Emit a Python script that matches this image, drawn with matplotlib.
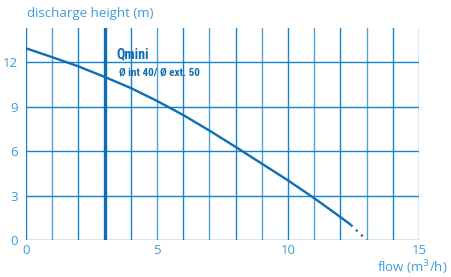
import numpy as np
import matplotlib
matplotlib.use('Agg')
import matplotlib.pyplot as plt
from matplotlib import font_manager

# pump curve
flow = [0, 1, 2, 3, 4, 5, 6, 7, 8, 9, 10, 11, 12, 12.4]
head = [12.93, 12.33, 11.71, 11.0, 10.25, 9.38, 8.43, 7.38, 6.28, 5.15, 4.02, 2.82, 1.55, 1.02]
flow_tail = [12.4, 13.0]
head_tail = [1.02, 0.0]
q_min = 3.0

x_ticks = [0, 5, 10, 15]
y_ticks = [0, 3, 6, 9, 12]

grid_col = '#1783c8'
curve_col = '#0f6db3'
text_col = '#3f9bd8'

plt.rcParams['font.family'] = ['Open Sans', 'DejaVu Sans']

# condensed bold face for the annotation, if one is installed
installed = {f.name for f in font_manager.fontManager.ttflist}
narrow = None
for name in ['Liberation Sans Narrow', 'DejaVu Sans Condensed', 'Roboto Condensed']:
    if name in installed:
        narrow = name
        break

fig = plt.figure(figsize=(4.52, 2.77), dpi=100)
ax = fig.add_axes([0.0575, 0.1336, 0.8695, 0.7654])

ax.set_xlim(0, 15)
ax.set_ylim(0, 14.3)

# grid
for xv in range(0, 16):
    ax.axvline(xv, color=grid_col, lw=1.0, alpha=0.75 if xv % 2 else 1.0, zorder=1)
for yv in y_ticks:
    ax.axhline(yv, color=grid_col, lw=1.0, zorder=1)

ax.axvline(q_min, color=curve_col, lw=2.4, ymax=14.2 / 14.3, zorder=3)

ax.plot(flow, head, color=curve_col, lw=1.7, zorder=4, solid_capstyle='butt',
        solid_joinstyle='round')
ax.plot(flow_tail, head_tail, color=curve_col, lw=1.6, ls=(0, (1, 2.2)), zorder=4)

for s in ax.spines.values():
    s.set_visible(False)

ax.set_xticks(x_ticks)
ax.set_yticks(y_ticks)
ax.tick_params(length=0, colors=text_col, labelsize=9.5)
ax.tick_params(axis='x', pad=3)
ax.tick_params(axis='y', pad=6)

fig.text(27 / 452, 1 - 14 / 277, 'discharge height (m)', color=text_col,
         fontsize=9.5, va='center', ha='left')
fig.text(447 / 452, 1 - 268 / 277, 'flow (m$^3$/h)', color=text_col,
         fontsize=9.5, va='center', ha='right')

if narrow:
    fam, s1, s2 = [narrow, 'DejaVu Sans'], 10, 8
else:
    fam, s1, s2 = ['Roboto', 'DejaVu Sans'], 7.5, 6.5
ax.text(3.45, 12.55, 'Qmini', color=curve_col, fontsize=s1, fontweight='bold',
        family=fam, va='center', ha='left', zorder=5)
ax.text(3.55, 11.27, 'Ø int 40/ Ø ext. 50', color=curve_col, fontsize=s2,
        fontweight='bold', family=fam, va='center', ha='left', zorder=5)

fig.savefig('out.png', dpi=100)
